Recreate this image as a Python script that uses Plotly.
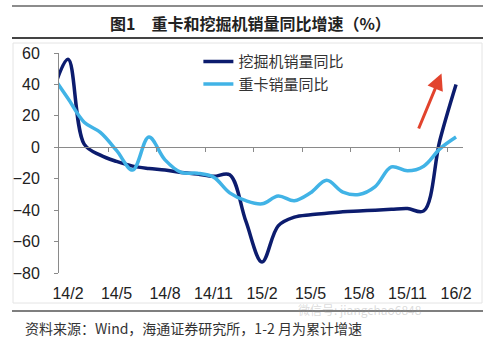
import plotly.graph_objects as go
import numpy as np

# ---- data (month index: 14/1 point is only partly visible, clipped at axis) ----
months = ["14/1", "14/2", "14/3", "14/4", "14/5", "14/6", "14/7", "14/8", "14/9",
          "14/10", "14/11", "14/12", "15/1", "15/2", "15/3", "15/4", "15/5",
          "15/6", "15/7", "15/8", "15/9", "15/10", "15/11", "15/12", "16/1", "16/2"]
excavator = [33, 56, 2, -5, -9, -12, -13.5, -14.5, -16, -17, -18.5, -17.5, -47, -73,
             -50, -44.5, -43, -42, -41, -40.5, -40, -39.5, -39, -40.5, 4.5, 40]
truck = [46, 31, 16, 9.5, -2, -14.5, 6.5, -8, -16, -16.5, -19, -29, -34, -36,
         -31, -34, -29, -21, -28.5, -30, -25, -12.5, -15, -12, -1, 6.5]
tick_labels = ["14/2", "14/5", "14/8", "14/11", "15/2", "15/5", "15/8", "15/11", "16/2"]

title_text = "<b>图1　重卡和挖掘机销量同比增速（%）</b>"
source_text = "资料来源：Wind，海通证券研究所，1-2 月为累计增速"
watermark_text = "微信号: jiangchao6848"

x = np.arange(len(months)) - 1          # 14/2 -> 0
label_pos = [months.index(m) - 1 for m in tick_labels]
boundary_pos = [p - 0.5 for p in label_pos[1:]]

XR = [-0.557, 24.43]
YR = [-80, 60]

DARK = "#0c1c6e"
LIGHT = "#41b3e6"
AXC = "#8a8a8a"
FONT = "Liberation Sans, Arial, sans-serif"
CJK = "Noto Sans CJK SC, sans-serif"

fig = go.Figure()
fig.add_trace(go.Scatter(x=x, y=excavator, mode="lines", name="挖掘机销量同比",
                         line=dict(color=DARK, width=3.5, shape="spline", smoothing=1.0)))
fig.add_trace(go.Scatter(x=x, y=truck, mode="lines", name="重卡销量同比",
                         line=dict(color=LIGHT, width=3.5, shape="spline", smoothing=1.0)))
# invisible trace to carry the zero-line category axis
fig.add_trace(go.Scatter(x=[XR[0]], y=[0], xaxis="x2", mode="markers",
                         marker=dict(opacity=0), showlegend=False, hoverinfo="skip"))

fig.update_layout(
    width=491, height=346,
    margin=dict(l=59, r=28, t=53, b=73),
    paper_bgcolor="white", plot_bgcolor="white",
    showlegend=True,
    legend=dict(x=0.345, y=1.035, xanchor="left", yanchor="top",
                bgcolor="rgba(0,0,0,0)", font=dict(family=CJK, size=15, color="#333"),
                tracegroupgap=0),
    xaxis=dict(range=XR, tickvals=label_pos, ticktext=tick_labels, ticks="",
               showline=False, showgrid=False, zeroline=False,
               tickfont=dict(family=FONT, size=16, color="#222"),
               ticklabelstandoff=9),
    xaxis2=dict(range=XR, overlaying="x", anchor="free",
                position=(0 - YR[0]) / (YR[1] - YR[0]), side="bottom",
                showline=True, linecolor=AXC, linewidth=1,
                ticks="outside", ticklen=4, tickcolor=AXC, tickwidth=1,
                tickvals=boundary_pos, showticklabels=False,
                showgrid=False, zeroline=False),
    yaxis=dict(range=YR, dtick=20, tick0=0, ticks="outside", ticklen=4,
               tickcolor=AXC, showline=True, linecolor=AXC, linewidth=1,
               showgrid=False, zeroline=False,
               tickfont=dict(family=FONT, size=16, color="#222"),
               ticklabelstandoff=11),
)

def px_x(px):
    return (px - 59) / 404

def px_y(py):
    return (273 - py) / 220

shapes = [
    # chart frame
    dict(type="rect", xref="paper", yref="paper", x0=px_x(13), x1=px_x(482),
         y0=px_y(303), y1=px_y(43), line=dict(color="#e4e4e4", width=1), layer="below"),
    # title rules
    dict(type="line", xref="paper", yref="paper", x0=px_x(12), x1=px_x(483),
         y0=px_y(6), y1=px_y(6), line=dict(color="#666", width=1.5)),
    dict(type="line", xref="paper", yref="paper", x0=px_x(12), x1=px_x(483),
         y0=px_y(38), y1=px_y(38), line=dict(color="#444", width=2)),
    # footer rule
    dict(type="line", xref="paper", yref="paper", x0=px_x(12), x1=px_x(483),
         y0=px_y(311), y1=px_y(311), line=dict(color="#555", width=1.5)),
]
fig.update_layout(shapes=shapes)

fig.add_annotation(x=px_x(250), y=px_y(23), xref="paper", yref="paper",
                   text=title_text, showarrow=False, xanchor="center", yanchor="middle",
                   font=dict(family=CJK, size=16, color="#222"))
fig.add_annotation(x=px_x(23), y=px_y(328), xref="paper", yref="paper",
                   text=source_text, showarrow=False, xanchor="left", yanchor="middle",
                   font=dict(family=CJK, size=14, color="#333"))
fig.add_annotation(x=px_x(296), y=px_y(309), xref="paper", yref="paper",
                   text=watermark_text, showarrow=False, xanchor="left",
                   yanchor="middle", font=dict(family=CJK, size=12, color="rgba(150,150,150,0.35)"))
# red arrow
fig.add_annotation(x=23.1, y=47, ax=21.65, ay=11, xref="x", yref="y", axref="x", ayref="y",
                   text="", showarrow=True, arrowhead=2, arrowsize=1.1, arrowwidth=3,
                   arrowcolor="#e2432d")

fig.write_html("out.html")
